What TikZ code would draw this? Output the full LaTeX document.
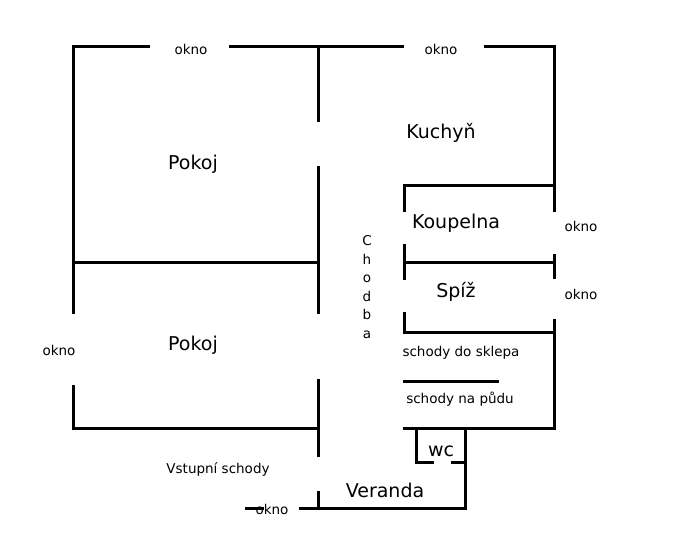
\documentclass[tikz,border=0pt]{standalone}
\usepackage{fontspec}
\setmainfont{DejaVu Sans}
\begin{document}
\begin{tikzpicture}[x=1pt, y=-1pt,
    wall/.style={line width=3pt, line cap=rect},
    small/.style={font=\fontsize{13.5}{16}\selectfont},
    room/.style={font=\fontsize{19}{22}\selectfont}
]
\useasboundingbox (0,0) rectangle (686,538);
% outer walls
\draw[wall] (73,46) -- (148,46);
\draw[wall] (230,46) -- (402,46);
\draw[wall] (485,46) -- (554,46) -- (554,210);
\draw[wall] (73,46) -- (73,312);
\draw[wall] (73,386) -- (73,428) -- (318,428);
\draw[wall] (73,262) -- (318,262);
% middle wall
\draw[wall] (318,46) -- (318,120);
\draw[wall] (318,167) -- (318,312);
\draw[wall] (318,380) -- (318,455);
\draw[wall] (318,492) -- (318,508);
% right block
\draw[wall] (404,210) -- (404,185) -- (554,185);
\draw[wall] (404,245) -- (404,278);
\draw[wall] (404,262) -- (554,262);
\draw[wall] (554,255) -- (554,277);
\draw[wall] (404,313) -- (404,332) -- (554,332);
\draw[wall] (554,320) -- (554,428) -- (404,428);
\draw[wall] (404,381) -- (497,381);
% wc and veranda
\draw[wall] (416,428) -- (416,462) -- (432,462);
\draw[wall] (452,462) -- (465,462);
\draw[wall] (465,428) -- (465,508) -- (300,508);
\draw[wall] (246,508) -- (262,508);
% labels
\node[small] (o1) at (191,49) {okno};
\node[small] (o2) at (441,49) {okno};
\node[small] (o3) at (581,226) {okno};
\node[small] (o4) at (581,294) {okno};
\node[small] (o5) at (59,350) {okno};
\node[small] (o6) at (272,509) {okno};
\node[room] (kuchyn) at (441,133) {Kuchyň};
\node[room] (pokoj1) at (193,164) {Pokoj};
\node[room] (pokoj2) at (193,345) {Pokoj};
\node[room] (koupelna) at (456,223) {Koupelna};
\node[room] (spiz) at (456,292) {Spíž};
\node[room] (wc) at (441,451) {wc};
\node[room] (veranda) at (385,490) {Veranda};
\node[small, align=center, font=\fontsize{13.5}{18.5}\selectfont] (chodba) at (367,287) {C\\h\\o\\d\\b\\a};
\node[small] (sklep) at (461,353) {schody do sklepa};
\node[small] (puda) at (460,399) {schody na půdu};
\node[small] (vstup) at (218,470) {Vstupní schody};
\end{tikzpicture}
\end{document}
